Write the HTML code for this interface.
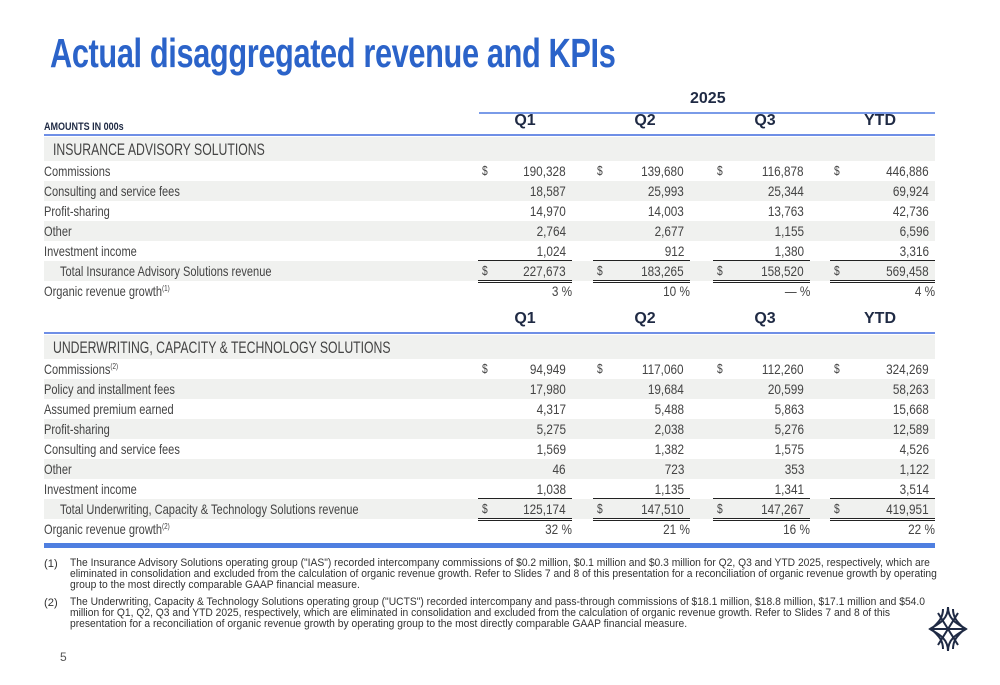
<!DOCTYPE html>
<html><head><meta charset="utf-8">
<style>
body{margin:0;width:1000px;height:685px;background:#fff;position:relative;overflow:hidden;font-family:"Liberation Sans",sans-serif;color:#444}
.a{position:absolute;white-space:nowrap}
.t{position:absolute;left:50px;top:30px;font-size:41px;font-weight:bold;color:#2b63c9;transform:scaleX(0.75);transform-origin:left top;white-space:nowrap;letter-spacing:-0.5px}
.c{transform:scaleX(0.79);transform-origin:left center}
.cr{transform:scaleX(0.84);transform-origin:right center}
.hd{font-weight:bold;color:#1f2a44;font-size:16px}
.fn{position:absolute;left:70px;font-size:11.2px;line-height:11px;color:#333;transform:scaleX(0.92);transform-origin:left top;white-space:nowrap}
</style></head><body>
<div class="t">Actual disaggregated revenue and KPIs</div>
<div id="tbl"></div>
<div class="a" style="left:44px;top:543px;width:891px;height:5px;background:#4f7fe0"></div>
<div class="a" style="left:44px;top:558px;font-size:11.2px;color:#333">(1)</div>
<div class="fn" style="top:558px">The Insurance Advisory Solutions operating group ("IAS") recorded intercompany commissions of $0.2 million, $0.1 million and $0.3 million for Q2, Q3 and YTD 2025, respectively, which are<br>eliminated in consolidation and excluded from the calculation of organic revenue growth. Refer to Slides 7 and 8 of this presentation for a reconciliation of organic revenue growth by operating<br>group to the most directly comparable GAAP financial measure.</div>
<div class="a" style="left:44px;top:597px;font-size:11.2px;color:#333">(2)</div>
<div class="fn" style="top:597px">The Underwriting, Capacity &amp; Technology Solutions operating group ("UCTS") recorded intercompany and pass-through commissions of $18.1 million, $18.8 million, $17.1 million and $54.0<br>million for Q1, Q2, Q3 and YTD 2025, respectively, which are eliminated in consolidation and excluded from the calculation of organic revenue growth. Refer to Slides 7 and 8 of this<br>presentation for a reconciliation of organic revenue growth by operating group to the most directly comparable GAAP financial measure.</div>
<div class="a" style="left:60px;top:650px;font-size:12px;color:#555">5</div>
<svg class="a" style="left:928px;top:605px" width="40" height="48" viewBox="0 0 40 48">
<g fill="none" stroke="#1f2a44" stroke-width="2">
<path d="M20 2 C20 16 8 20 2 24 C8 28 20 32 20 46"/><path d="M20 2 C20 16 32 20 38 24 C32 28 20 32 20 46"/>
<path d="M15 4 C15 16 6 20 4 24 C6 28 15 32 15 44"/><path d="M25 4 C25 16 34 20 36 24 C34 28 25 32 25 44"/>
<path d="M10 8 L30 40 M30 8 L10 40 M4 24 L36 24"/>
</g></svg>
<script>
const cols=['Q1','Q2','Q3','YTD'];
const iasLabels=['Commissions','Consulting and service fees','Profit-sharing','Other','Investment income','Total Insurance Advisory Solutions revenue','Organic revenue growth'];
const iasQ1=['190,328','18,587','14,970','2,764','1,024','227,673','3 %'];
const iasQ2=['139,680','25,993','14,003','2,677','912','183,265','10 %'];
const iasQ3=['116,878','25,344','13,763','1,155','1,380','158,520','— %'];
const iasYTD=['446,886','69,924','42,736','6,596','3,316','569,458','4 %'];
const ucLabels=['Commissions','Policy and installment fees','Assumed premium earned','Profit-sharing','Consulting and service fees','Other','Investment income','Total Underwriting, Capacity & Technology Solutions revenue','Organic revenue growth'];
const ucQ1=['94,949','17,980','4,317','5,275','1,569','46','1,038','125,174','32 %'];
const ucQ2=['117,060','19,684','5,488','2,038','1,382','723','1,135','147,510','21 %'];
const ucQ3=['112,260','20,599','5,863','5,276','1,575','353','1,341','147,267','16 %'];
const ucYTD=['324,269','58,263','15,668','12,589','4,526','1,122','3,514','419,951','22 %'];
const T=document.getElementById('tbl');
const colX=[[478,572],[593,690],[713,810],[830,935]];
const hdrX=[525,645,765,880];
function el(css,html){const d=document.createElement('div');d.className='a';d.style.cssText=css;if(html!==undefined)d.innerHTML=html;T.appendChild(d);return d;}
let e;
e=el('left:479px;top:112px;width:456px;height:2px;background:#7a9be8');

e=el('left:690px;top:90px;font-size:16px;font-weight:bold;color:#1f2a44','2025');

e=el('left:44px;top:121px;font-size:11px;font-weight:bold;color:#1f2a44;transform:scaleX(0.82);transform-origin:left','AMOUNTS IN 000s');

function header(y,name){
  cols.forEach((c,i)=>{e=el('left:'+(hdrX[i]-30)+'px;width:60px;text-align:center;top:'+(y-1)+'px','<span class="hd">'+c+'</span>');
  });
  e=el('left:44px;top:'+(y+21)+'px;width:891px;height:2px;background:#6f8fe6');
  
}
function section(y0,title,labels,vals,name,sup){
  e=el('left:44px;top:'+y0+'px;width:891px;height:24px;background:#f0f1ef');
  
  e=el('left:53px;top:'+(y0+3)+'px;font-size:17px;color:#444;transform:scaleX(0.72);transform-origin:left','');
  e.textContent=title;
  
  const n=labels.length;
  labels.forEach((lab,r)=>{
    const y=y0+24+r*20;
    if(r%2==1){e=el('left:44px;top:'+y+'px;width:891px;height:20px;background:#f0f1ef');
      }
    const isTot=r==n-2,isOrg=r==n-1;
    let txt=lab.replace('&','&amp;');
    if(isOrg||(r==0&&name=='ucts'))txt+='<span style="font-size:8px;position:relative;top:-5px">('+sup+')</span>';
    e=el('left:'+(isTot?60:44)+'px;top:'+(y+2)+'px;font-size:14px;line-height:16px',txt);
    e.classList.add('c');
    
    vals.forEach((arr,i)=>{
      const [x0,x1]=colX[i];
      if(r==0||isTot){e=el('left:'+(x0+4)+'px;top:'+(y+2)+'px;font-size:13px','$');e.classList.add('c');
        }
      e=el('right:'+(1000-x1+(isOrg?0:6))+'px;top:'+(y+2)+'px;font-size:14px;line-height:16px');
      e.textContent=arr[r];e.classList.add('cr');
      
      if(r==n-3){e=el('left:'+x0+'px;top:'+(y+19)+'px;width:'+(x1-x0)+'px;height:1px;background:#222');
        }
      if(isTot){e=el('left:'+x0+'px;top:'+(y+19)+'px;width:'+(x1-x0)+'px;height:3px;border-top:1px solid #222;border-bottom:1px solid #222;box-sizing:border-box');
        }
    });
  });
}
header(113,'ias');
section(137,'INSURANCE ADVISORY SOLUTIONS',iasLabels,[iasQ1,iasQ2,iasQ3,iasYTD],'ias',1);
header(311,'ucts');
section(335,'UNDERWRITING, CAPACITY & TECHNOLOGY SOLUTIONS',ucLabels,[ucQ1,ucQ2,ucQ3,ucYTD],'ucts',2);
</script>
</body></html>
